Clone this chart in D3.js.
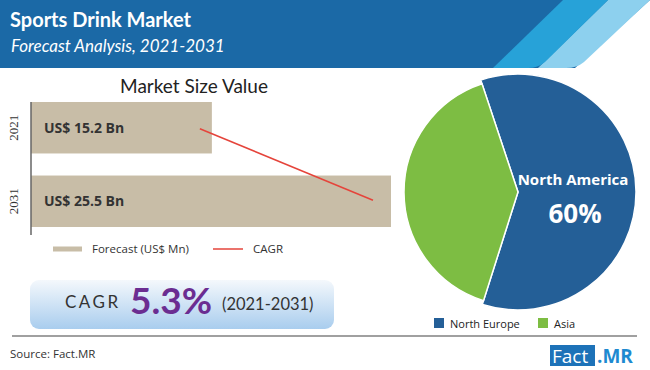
<!DOCTYPE html>
<html><head><meta charset="utf-8">
<script src="https://cdn.jsdelivr.net/npm/d3@7"></script>
<style>body{margin:0;background:#fff}svg{display:block}</style>
</head><body>
<script>
const years = ["2021", "2031"];
const marketValues = [15.2, 25.5];
const barLabels = ["US$ 15.2 Bn", "US$ 25.5 Bn"];
const regions = ["North America", "Asia"];
const shares = [60, 40];
const legendRegions = ["North Europe", "Asia"];
const cagrValue = "5.3%";

const W = 650, H = 370;
const svg = d3.select("body").append("svg").attr("width", W).attr("height", H);
const defs = svg.append("defs");

// Header band
svg.append("rect").attr("x",0).attr("y",0).attr("width",W).attr("height",68).attr("fill","#1b69a6");
svg.append("path").attr("d","M650,0 L650,68 L575,68 Z").attr("fill","#fff");
svg.append("path").attr("d","M608,0 L650,0 L584,62 Q577,68 566,68 L538,68 Z").attr("fill","#8dd0ee");
svg.append("path").attr("d","M563,0 L608,0 L545,62 Q538,68 528,68 L493,68 Z").attr("fill","#27a2d8");

svg.append("text").attr("x",10).attr("y",27).text("Sports Drink Market")
  .attr("fill","#fff").attr("font-family","Lato, 'Open Sans', sans-serif").attr("font-weight","bold").attr("font-size",20);
svg.append("text").attr("x",11).attr("y",52).text("Forecast Analysis, 2021-2031")
  .attr("fill","#fff").attr("font-family","Lato, 'Open Sans', sans-serif").attr("font-style","italic").attr("font-size",17);

// Bar chart
const x = d3.scaleLinear().domain([4.8, 25.5]).range([0, 360]);
const y = d3.scaleBand().domain(years).range([102, 227]).paddingInner(0.3).paddingOuter(0.0);
const gx = 31;

svg.append("text").attr("x",194).attr("y",93).attr("text-anchor","middle").text("Market Size Value")
  .attr("fill","#222").attr("font-family","Lato, sans-serif").attr("font-size",19);

svg.selectAll("rect.bar").data(years).join("rect").attr("class","bar")
  .attr("x",gx).attr("y",d=>y(d)).attr("width",(d,i)=>x(marketValues[i])).attr("height",y.bandwidth())
  .attr("fill","#c8bda7");

const yAxis = svg.append("g").attr("transform",`translate(${gx},0)`).call(d3.axisLeft(y).tickSize(0).tickPadding(6));
yAxis.select(".domain").attr("stroke","#666").attr("stroke-width",1.5).attr("d","M0,102V235");
yAxis.selectAll(".tick text").attr("transform","rotate(-90)")
  .attr("x",0).attr("y",-13).attr("dy","0").attr("text-anchor","middle")
  .attr("font-family","'Liberation Serif', serif").attr("font-size",13).attr("fill","#333");

svg.selectAll("text.blabel").data(barLabels).join("text").attr("class","blabel")
  .attr("x",gx+13).attr("y",(d,i)=>y(years[i])+y.bandwidth()/2+5).text(d=>d)
  .attr("font-family","'Open Sans', sans-serif").attr("font-weight","bold").attr("font-size",14).attr("fill","#333");

const line = d3.line().x((d,i)=>gx+x(marketValues[i])-(i?18:12)).y((d,i)=>y(years[i])+y.bandwidth()/2+(i?-1:1));
svg.append("path").datum(years).attr("d",line).attr("fill","none").attr("stroke","#e5443b").attr("stroke-width",1.5);

// legend
svg.append("rect").attr("x",53).attr("y",246.5).attr("width",29).attr("height",5).attr("fill","#c8bda7");
svg.append("text").attr("x",92).attr("y",253).text("Forecast (US$ Mn)")
  .attr("font-family","'Open Sans', sans-serif").attr("font-size",11.5).attr("fill","#333");
svg.append("line").attr("x1",213).attr("x2",243).attr("y1",249).attr("y2",249).attr("stroke","#e5443b").attr("stroke-width",1.5);
svg.append("text").attr("x",253).attr("y",253).text("CAGR")
  .attr("font-family","'Open Sans', sans-serif").attr("font-size",11.5).attr("fill","#333");

// CAGR box
const grad = defs.append("linearGradient").attr("id","cg").attr("x1",0).attr("x2",0).attr("y1",0).attr("y2",1);
grad.append("stop").attr("offset","0%").attr("stop-color","#f4f8fc");
grad.append("stop").attr("offset","100%").attr("stop-color","#a9cdee");
svg.append("rect").attr("x",30).attr("y",280).attr("width",304).attr("height",49).attr("rx",9).attr("fill","url(#cg)");
svg.append("text").attr("x",65).attr("y",308).text("CAGR").attr("font-family","Lato, sans-serif")
  .attr("font-size",17).attr("letter-spacing",2.5).attr("fill","#333");
svg.append("text").attr("x",130).attr("y",314).text(cagrValue).attr("font-family","Lato, sans-serif")
  .attr("font-size",37).attr("font-weight","bold").attr("fill","#6b2d91");
svg.append("text").attr("x",222).attr("y",310).text("(2021-2031)").attr("font-family","Lato, sans-serif")
  .attr("font-size",16.5).attr("fill","#333");

// divider
svg.append("line").attr("x1",12).attr("x2",637).attr("y1",336).attr("y2",336).attr("stroke","#a0a0a0").attr("stroke-width",2);
svg.append("text").attr("x",10).attr("y",358).text("Source: Fact.MR")
  .attr("font-family","'Open Sans', sans-serif").attr("font-size",11.5).attr("fill","#333");

// Fact.MR logo
svg.append("rect").attr("x",550).attr("y",345).attr("width",45).attr("height",21).attr("fill","#1d72b8");
svg.append("text").attr("x",552).attr("y",363).text("Fact").attr("font-family","'Open Sans', sans-serif").attr("font-size",19).attr("fill","#fff");
svg.append("text").attr("x",597).attr("y",363).text(".MR").attr("font-family","'Open Sans', sans-serif").attr("font-weight","bold").attr("font-size",19).attr("fill","#1e8ad0");

// Pie
const colors = d3.scaleOrdinal().domain(regions).range(["#245f97","#7dbd43"]);
const radii = [118, 114];
const pie = d3.pie().sort(null).startAngle(-18.4*Math.PI/180).endAngle((360-18.4)*Math.PI/180);
const arcs = pie(shares);
const pg = svg.append("g").attr("transform","translate(518,192)");
pg.selectAll("path").data(arcs).join("path")
  .attr("d",(d,i)=>d3.arc().innerRadius(0).outerRadius(radii[i])(d))
  .attr("fill",(d,i)=>colors(regions[i])).attr("stroke","#fff").attr("stroke-width",1.5);
pg.append("text").attr("x",55).attr("y",-7).attr("text-anchor","middle").text(regions[0])
  .attr("font-family","'Open Sans', sans-serif").attr("font-weight","bold").attr("font-size",15).attr("fill","#fff");
pg.append("text").attr("x",57).attr("y",31).attr("text-anchor","middle").text(shares[0]+"%")
  .attr("font-family","'Open Sans', sans-serif").attr("font-weight","bold").attr("font-size",26).attr("fill","#fff");

// pie legend
const lg = svg.selectAll("g.pl").data(legendRegions).join("g").attr("class","pl")
  .attr("transform",(d,i)=>`translate(${i?538:434},318)`);
lg.append("rect").attr("width",10).attr("height",10).attr("fill",(d,i)=>i?"#7dbd43":"#245f97");
lg.append("text").attr("x",16).attr("y",9.5).text(d=>d)
  .attr("font-family","'Open Sans', sans-serif").attr("font-size",11).attr("fill","#222");
</script>
</body></html>
